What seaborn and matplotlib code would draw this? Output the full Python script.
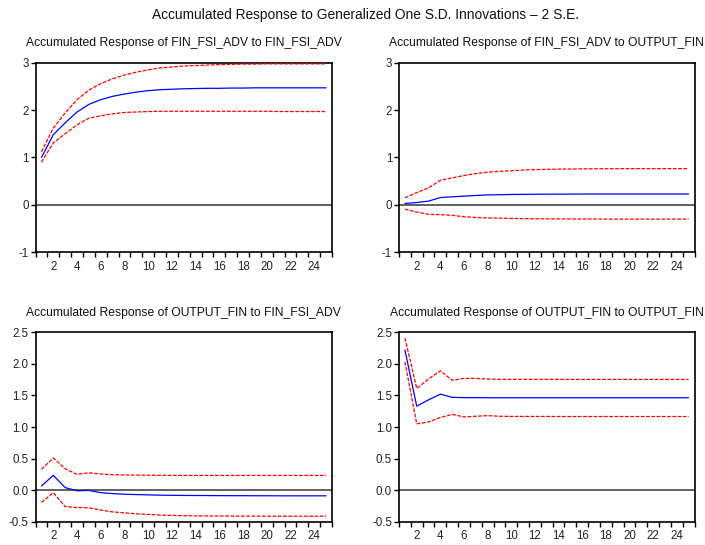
import numpy as np
import pandas as pd
import matplotlib
matplotlib.use("Agg")
import matplotlib.pyplot as plt
from matplotlib.ticker import FixedLocator
import seaborn as sns

periods = list(range(1, 26))

# Panel 1: FIN_FSI_ADV to FIN_FSI_ADV
p1_resp = [1.00, 1.48, 1.73, 1.96, 2.12, 2.22, 2.29, 2.34, 2.38, 2.41, 2.43, 2.44, 2.45,
           2.455, 2.46, 2.46, 2.465, 2.465, 2.47, 2.47, 2.47, 2.47, 2.47, 2.47, 2.47]
p1_up = [1.12, 1.62, 1.94, 2.22, 2.42, 2.56, 2.66, 2.74, 2.80, 2.85, 2.89, 2.91, 2.93,
         2.94, 2.95, 2.96, 2.965, 2.97, 2.97, 2.975, 2.975, 2.975, 2.975, 2.975, 2.975]
p1_lo = [0.90, 1.31, 1.50, 1.69, 1.83, 1.88, 1.92, 1.95, 1.96, 1.97, 1.975, 1.975, 1.975,
         1.975, 1.975, 1.975, 1.975, 1.975, 1.975, 1.975, 1.97, 1.97, 1.97, 1.97, 1.97]

# Panel 2: FIN_FSI_ADV to OUTPUT_FIN
p2_resp = [0.03, 0.05, 0.08, 0.155, 0.17, 0.185, 0.20, 0.21, 0.215, 0.22, 0.222, 0.225, 0.226,
           0.227, 0.228, 0.229, 0.23, 0.23, 0.23, 0.23, 0.23, 0.23, 0.23, 0.23, 0.23]
p2_up = [0.15, 0.26, 0.36, 0.52, 0.57, 0.62, 0.66, 0.69, 0.71, 0.72, 0.735, 0.745, 0.75,
         0.755, 0.757, 0.76, 0.762, 0.763, 0.764, 0.765, 0.765, 0.765, 0.765, 0.765, 0.765]
p2_lo = [-0.09, -0.15, -0.20, -0.205, -0.22, -0.25, -0.265, -0.275, -0.28, -0.285, -0.29, -0.292,
         -0.294, -0.295, -0.296, -0.297, -0.298, -0.299, -0.30, -0.30, -0.30, -0.30, -0.30, -0.30, -0.30]

# Panel 3: OUTPUT_FIN to FIN_FSI_ADV
p3_resp = [0.065, 0.235, 0.04, -0.01, -0.005, -0.04, -0.055, -0.065, -0.07, -0.075, -0.08, -0.082,
           -0.084, -0.085, -0.086, -0.087, -0.088, -0.088, -0.089, -0.089, -0.09, -0.09, -0.09, -0.09, -0.09]
p3_up = [0.33, 0.51, 0.34, 0.25, 0.275, 0.255, 0.245, 0.24, 0.238, 0.236, 0.235, 0.234, 0.233,
         0.233, 0.233, 0.233, 0.233, 0.233, 0.233, 0.233, 0.233, 0.233, 0.233, 0.233, 0.233]
p3_lo = [-0.195, -0.04, -0.26, -0.275, -0.28, -0.315, -0.345, -0.36, -0.375, -0.385, -0.395, -0.40,
         -0.405, -0.407, -0.409, -0.41, -0.411, -0.412, -0.412, -0.413, -0.413, -0.413, -0.413, -0.413, -0.413]

# Panel 4: OUTPUT_FIN to OUTPUT_FIN
p4_resp = [2.22, 1.33, 1.43, 1.52, 1.47, 1.465, 1.465, 1.463, 1.463, 1.463, 1.463, 1.463, 1.463,
           1.463, 1.463, 1.463, 1.463, 1.463, 1.463, 1.463, 1.463, 1.463, 1.463, 1.463, 1.463]
p4_up = [2.41, 1.61, 1.76, 1.89, 1.74, 1.77, 1.77, 1.76, 1.755, 1.755, 1.755, 1.755, 1.755,
         1.755, 1.754, 1.754, 1.754, 1.754, 1.754, 1.754, 1.754, 1.754, 1.754, 1.754, 1.754]
p4_lo = [2.03, 1.05, 1.08, 1.15, 1.20, 1.16, 1.17, 1.18, 1.17, 1.168, 1.167, 1.167, 1.167,
         1.166, 1.166, 1.166, 1.166, 1.166, 1.166, 1.166, 1.166, 1.166, 1.166, 1.166, 1.166]

titles = [
    "Accumulated Response of FIN_FSI_ADV to FIN_FSI_ADV",
    "Accumulated Response of FIN_FSI_ADV to OUTPUT_FIN",
    "Accumulated Response of OUTPUT_FIN to FIN_FSI_ADV",
    "Accumulated Response of OUTPUT_FIN to OUTPUT_FIN",
]
suptitle = "Accumulated Response to Generalized One S.D. Innovations \u2013 2 S.E."
yticks_top = [-1, 0, 1, 2, 3]
yticks_bottom = [-0.5, 0.0, 0.5, 1.0, 1.5, 2.0, 2.5]
xtick_labels = list(range(2, 25, 2))

sns.set_theme(style="white")
plt.rcParams['font.family'] = ['Liberation Sans', 'DejaVu Sans']

W, H = 705, 545
fig = plt.figure(figsize=(W / 100, H / 100), dpi=100)

def rect(l, t, r, b):
    return [l / W, 1 - b / H, (r - l) / W, (b - t) / H]

rects = [rect(35.5, 62.7, 332, 252.3), rect(399, 62.7, 694.5, 252.3),
         rect(35.5, 332.3, 332, 521.7), rect(399, 332.3, 694.5, 521.7)]
panels = [(p1_resp, p1_up, p1_lo), (p2_resp, p2_up, p2_lo),
          (p3_resp, p3_up, p3_lo), (p4_resp, p4_up, p4_lo)]

for i, (r, (resp, up, lo)) in enumerate(zip(rects, panels)):
    ax = fig.add_axes(r)
    df = pd.DataFrame({"period": periods, "resp": resp, "up": up, "lo": lo})
    ax.axhline(0, color="#555555", lw=1.3, zorder=1)
    sns.lineplot(data=df, x="period", y="up", ax=ax, color="red", lw=0.9,
                 linestyle=(0, (3, 1.2)), zorder=3)
    sns.lineplot(data=df, x="period", y="lo", ax=ax, color="red", lw=0.9,
                 linestyle=(0, (3, 1.2)), zorder=3)
    sns.lineplot(data=df, x="period", y="resp", ax=ax, color="blue", lw=0.9, zorder=4)
    ax.set_xlim(0.5, 25.5)
    if i < 2:
        ax.set_ylim(-1, 3)
        ax.set_yticks(yticks_top)
        ax.set_yticklabels([str(v) for v in yticks_top])
    else:
        ax.set_ylim(-0.5, 2.5)
        ax.set_yticks(yticks_bottom)
        ax.set_yticklabels([f"{v:.1f}" for v in yticks_bottom])
    ax.set_xticks(xtick_labels)
    ax.set_xticklabels([str(v) for v in xtick_labels])
    ax.xaxis.set_minor_locator(FixedLocator(np.arange(0.5, 25.6, 1.0)))
    ax.tick_params(axis="x", which="major", length=0, pad=6, labelsize=8.3, colors="#222222")
    ax.tick_params(axis="x", which="minor", length=3.5, width=1, direction="out",
                   bottom=True, color="black")
    ax.tick_params(axis="y", which="major", length=3.5, width=1, direction="out",
                   left=True, labelsize=8.3, pad=1.5, colors="#222222")
    ax.tick_params(axis="y", colors="black", labelcolor="#222222")
    ax.set_xlabel("")
    ax.set_ylabel("")
    for s in ax.spines.values():
        s.set_visible(True)
        s.set_color("black")
        s.set_linewidth(1.2)
    ax.set_title(titles[i], fontsize=8.7, pad=12, color="#111111")

fig.text(365 / W, 1 - 15 / H, suptitle, ha="center", va="center", fontsize=9.9, color="#111111")

fig.savefig("out.png", dpi=100)
